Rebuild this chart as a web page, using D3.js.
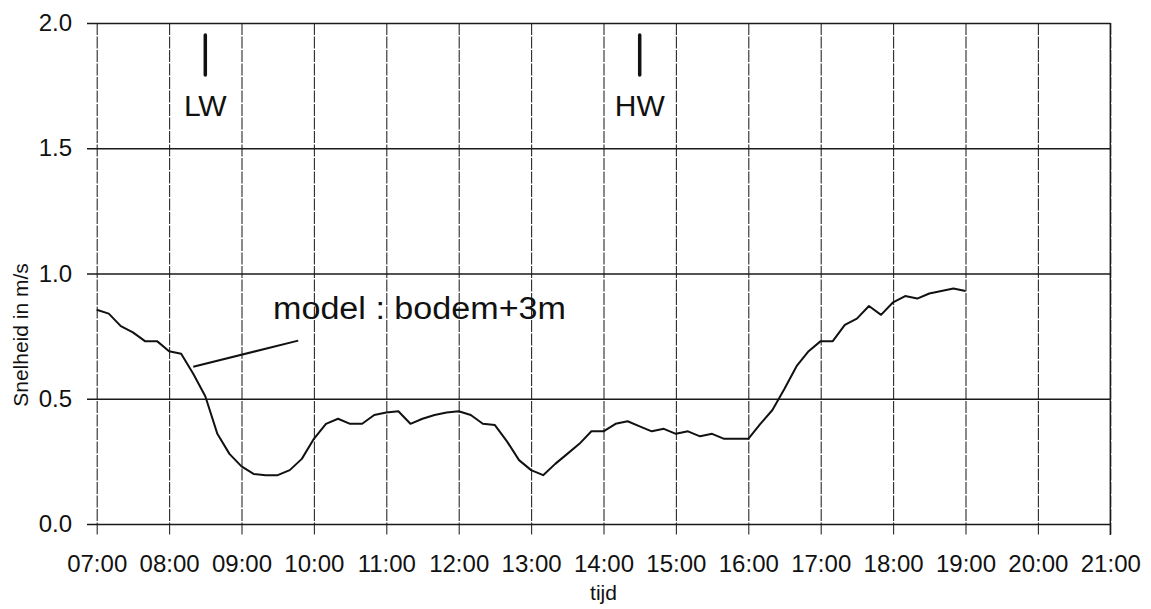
<!DOCTYPE html>
<html>
<head>
<meta charset="utf-8">
<script src="https://cdn.jsdelivr.net/npm/d3@7"></script>
<style>
  html, body { margin: 0; padding: 0; background: #ffffff; }
  svg { display: block; }
  text { font-family: "Liberation Sans", Arial, Helvetica, sans-serif; fill: #111; }
</style>
</head>
<body>
<svg id="chart" width="1151" height="609"></svg>
<script>
// Flow velocity (m/s), one reading every 10 minutes from 07:00 to 19:00
const startTime = "07:00";
const stepMinutes = 10;
const velocity = [
  0.855, 0.84, 0.79, 0.765, 0.73, 0.73,
  0.69, 0.68, 0.60, 0.51, 0.36, 0.28,
  0.23, 0.20, 0.195, 0.195, 0.215, 0.26,
  0.34, 0.40, 0.42, 0.40, 0.40, 0.435,
  0.445, 0.45, 0.40, 0.42, 0.435, 0.445,
  0.45, 0.435, 0.40, 0.395, 0.33, 0.255,
  0.215, 0.195, 0.24, 0.28, 0.32, 0.37,
  0.37, 0.40, 0.41, 0.39, 0.37, 0.38,
  0.36, 0.37, 0.35, 0.36, 0.34, 0.34,
  0.34, 0.40, 0.455, 0.54, 0.63, 0.69,
  0.73, 0.73, 0.795, 0.82, 0.87, 0.835,
  0.885, 0.91, 0.90, 0.92, 0.93, 0.94,
  0.93
];

const xDomain = ["07:00", "21:00"];
const yTicks = [0, 0.5, 1.0, 1.5, 2.0];

// Tide markers: low water and high water
const tideMarks = [
  { label: "LW", time: "08:30" },
  { label: "HW", time: "14:30" }
];

// Callout for the model curve
const calloutText = "model : bodem+3m";
const calloutFrom = { time: "08:20", value: 0.628 };
const calloutTo = { time: "09:47", value: 0.732 };

const parse = d3.timeParse("%H:%M");
const t0 = parse(startTime);
const series = velocity.map((v, i) => ({ t: d3.timeMinute.offset(t0, i * stepMinutes), v }));

const svg = d3.select("#chart");
const plot = { left: 96.7, right: 1110.3, top: 23, bottom: 524, tickEnd: 535, gridStart: 87 };

const x = d3.scaleTime().domain(xDomain.map(parse)).range([plot.left, plot.right]);
const y = d3.scaleLinear().domain([0, 2]).range([plot.bottom, plot.top]);

// Vertical hour grid, extending below the baseline as ticks
const xAxis = d3.axisBottom(x)
  .ticks(d3.timeHour.every(1))
  .tickFormat(d3.timeFormat("%H:%M"))
  .tickSizeInner(plot.tickEnd - plot.top)
  .tickSizeOuter(0)
  .tickPadding(20);

const gx = svg.append("g")
  .attr("transform", `translate(0,${plot.top})`)
  .call(xAxis);
gx.select(".domain").remove();
gx.selectAll(".tick line")
  .attr("stroke", "#2a2a2a")
  .attr("stroke-width", 1.1)
  .attr("stroke-dasharray", "12,1.5");
gx.selectAll(".tick text")
  .attr("font-size", 24)
  .attr("fill", "#111");

// Horizontal value grid, extending left of the plot as ticks
const yAxis = d3.axisLeft(y)
  .tickValues(yTicks)
  .tickFormat(d3.format(".1f"))
  .tickSizeInner(plot.right - plot.gridStart)
  .tickSizeOuter(0)
  .tickPadding(15);

const gy = svg.append("g")
  .attr("transform", `translate(${plot.right},0)`)
  .call(yAxis);
gy.select(".domain").remove();
gy.selectAll(".tick line")
  .attr("stroke", "#1a1a1a")
  .attr("stroke-width", 1.6);
gy.selectAll(".tick text")
  .attr("font-size", 24)
  .attr("fill", "#111");

// Right border of the plot
svg.append("line")
  .attr("x1", plot.right).attr("x2", plot.right)
  .attr("y1", plot.top).attr("y2", plot.tickEnd)
  .attr("stroke", "#1a1a1a").attr("stroke-width", 1.4);

// Axis titles
svg.append("text")
  .attr("x", (plot.left + plot.right) / 2)
  .attr("y", 600)
  .attr("text-anchor", "middle")
  .attr("font-size", 21)
  .text("tijd");

svg.append("text")
  .attr("transform", "translate(28,335) rotate(-90)")
  .attr("text-anchor", "middle")
  .attr("font-size", 21)
  .text("Snelheid in m/s");

// Velocity curve
const line = d3.line().x(d => x(d.t)).y(d => y(d.v));
svg.append("path")
  .datum(series)
  .attr("fill", "none")
  .attr("stroke", "#111")
  .attr("stroke-width", 2)
  .attr("stroke-linejoin", "round")
  .attr("d", line);

// LW / HW markers
const marks = svg.append("g").selectAll("g").data(tideMarks).join("g")
  .attr("transform", d => `translate(${x(parse(d.time))},0)`);
marks.append("line")
  .attr("y1", 35).attr("y2", 75)
  .attr("stroke", "#111").attr("stroke-width", 3.5)
  .attr("stroke-linecap", "round");
marks.append("text")
  .attr("y", 116)
  .attr("text-anchor", "middle")
  .attr("font-size", 30)
  .text(d => d.label);

// Callout line and label
svg.append("line")
  .attr("x1", x(parse(calloutFrom.time))).attr("y1", y(calloutFrom.value))
  .attr("x2", x(parse(calloutTo.time))).attr("y2", y(calloutTo.value))
  .attr("stroke", "#111").attr("stroke-width", 2);
svg.append("text")
  .attr("x", 273)
  .attr("y", 319)
  .attr("font-size", 31)
  .attr("textLength", 293)
  .attr("lengthAdjust", "spacingAndGlyphs")
  .text(calloutText);
</script>
</body>
</html>
